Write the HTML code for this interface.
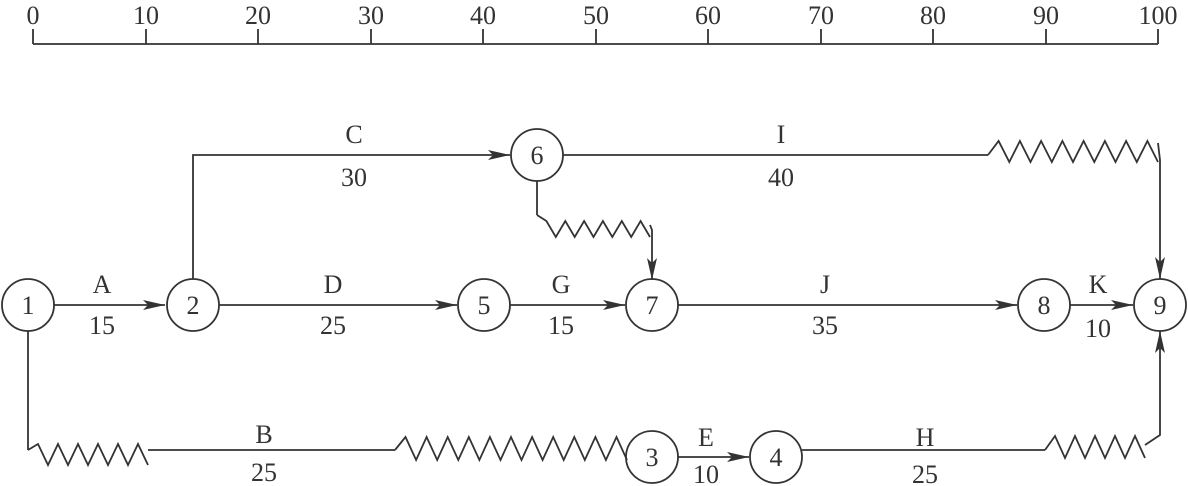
<!DOCTYPE html>
<html><head><meta charset="utf-8"><style>
html,body{margin:0;padding:0;background:#fff;}
svg{display:block;}
text{font-family:"Liberation Serif",serif;font-size:26px;fill:#333;text-anchor:middle;}
</style></head><body>
<svg id="s" width="1188" height="486" viewBox="0 0 1188 486" xmlns="http://www.w3.org/2000/svg">
<defs><marker id="a" markerWidth="22" markerHeight="10" refX="22" refY="5" orient="auto" markerUnits="userSpaceOnUse"><path d="M0,0 L22,5 L0,10 L5,5 Z" fill="#333"/></marker></defs>
<g stroke="#333" stroke-width="1.8" fill="none" id="g">
<line x1="33" y1="44" x2="1158" y2="44"/>
<line x1="33" y1="29" x2="33" y2="44"/><line x1="146" y1="29" x2="146" y2="44"/><line x1="258" y1="29" x2="258" y2="44"/><line x1="371" y1="29" x2="371" y2="44"/><line x1="483" y1="29" x2="483" y2="44"/><line x1="596" y1="29" x2="596" y2="44"/><line x1="708" y1="29" x2="708" y2="44"/><line x1="821" y1="29" x2="821" y2="44"/><line x1="933" y1="29" x2="933" y2="44"/><line x1="1046" y1="29" x2="1046" y2="44"/><line x1="1158" y1="29" x2="1158" y2="44"/>
<line x1="54" y1="305" x2="165" y2="305" marker-end="url(#a)"/>
<polyline points="193,279 193,155 510,155" marker-end="url(#a)"/>
<line x1="219" y1="305" x2="457" y2="305" marker-end="url(#a)"/>
<line x1="510" y1="305" x2="625" y2="305" marker-end="url(#a)"/>
<line x1="678" y1="305" x2="1017" y2="305" marker-end="url(#a)"/>
<line x1="1070" y1="305" x2="1133" y2="305" marker-end="url(#a)"/>
<line x1="563" y1="155" x2="988" y2="155"/>
<polyline points="1158,143 1160,160 1160,279" marker-end="url(#a)"/>
<polyline points="537,181 537,215"/>
<polyline points="650,225 652,230 652,280" marker-end="url(#a)"/>
<polyline points="28,331 28,450"/>
<line x1="148" y1="450" x2="395" y2="450"/>
<line x1="678" y1="457" x2="749" y2="457" marker-end="url(#a)"/>
<line x1="802" y1="450" x2="1045" y2="450"/>
<polyline points="1145,445 1160,435 1160,331" marker-end="url(#a)"/>
<circle cx="28" cy="305" r="26"/><circle cx="193" cy="305" r="26"/><circle cx="537" cy="155" r="26"/>
<circle cx="484" cy="305" r="26"/><circle cx="652" cy="305" r="26"/><circle cx="1044" cy="305" r="26"/>
<circle cx="1160" cy="305" r="26"/><circle cx="652" cy="457" r="26"/><circle cx="776" cy="457" r="26"/>
</g>
<g>
<text x="33" y="24">0</text><text x="146" y="24">10</text><text x="258" y="24">20</text><text x="371" y="24">30</text><text x="483" y="24">40</text><text x="596" y="24">50</text><text x="708" y="24">60</text><text x="821" y="24">70</text><text x="933" y="24">80</text><text x="1046" y="24">90</text><text x="1158" y="24">100</text>
<text x="28" y="314">1</text><text x="193" y="314">2</text><text x="537" y="164">6</text><text x="484" y="314">5</text><text x="652" y="314">7</text><text x="1044" y="314">8</text><text x="1160" y="314">9</text><text x="652" y="466">3</text><text x="776" y="466">4</text>
<text x="102" y="293">A</text><text x="102" y="334">15</text>
<text x="354" y="143">C</text><text x="354" y="186">30</text>
<text x="333" y="293">D</text><text x="333" y="334">25</text>
<text x="561" y="293">G</text><text x="561" y="334">15</text>
<text x="781" y="143">I</text><text x="781" y="186">40</text>
<text x="825" y="293">J</text><text x="825" y="334">35</text>
<text x="1098" y="293">K</text><text x="1098" y="337">10</text>
<text x="264" y="443">B</text><text x="264" y="481">25</text>
<text x="706" y="446">E</text><text x="706" y="483">10</text>
<text x="925" y="446">H</text><text x="925" y="483">25</text>
</g>
</svg>
<script>
var g=document.getElementById("g");
function add(pts){var e=document.createElementNS("http://www.w3.org/2000/svg","polyline");e.setAttribute("points",pts);g.appendChild(e);}
function saw(x1,x2,y,up,down,teeth){var p=[],w=(x2-x1)/teeth;p.push(x1+","+y);for(var i=0;i<teeth;i++){p.push((x1+w*(i+0.5)).toFixed(1)+","+up);p.push((x1+w*(i+1)).toFixed(1)+","+down);}add(p.join(" "));}
saw(988,1158,155,141,162,8);
saw(537,650,215,221,237,6);
saw(28,148,450,444,465,6);
saw(395,627,450,437,460,11);
saw(1045,1145,450,436,458,5);
</script>
</body></html>
